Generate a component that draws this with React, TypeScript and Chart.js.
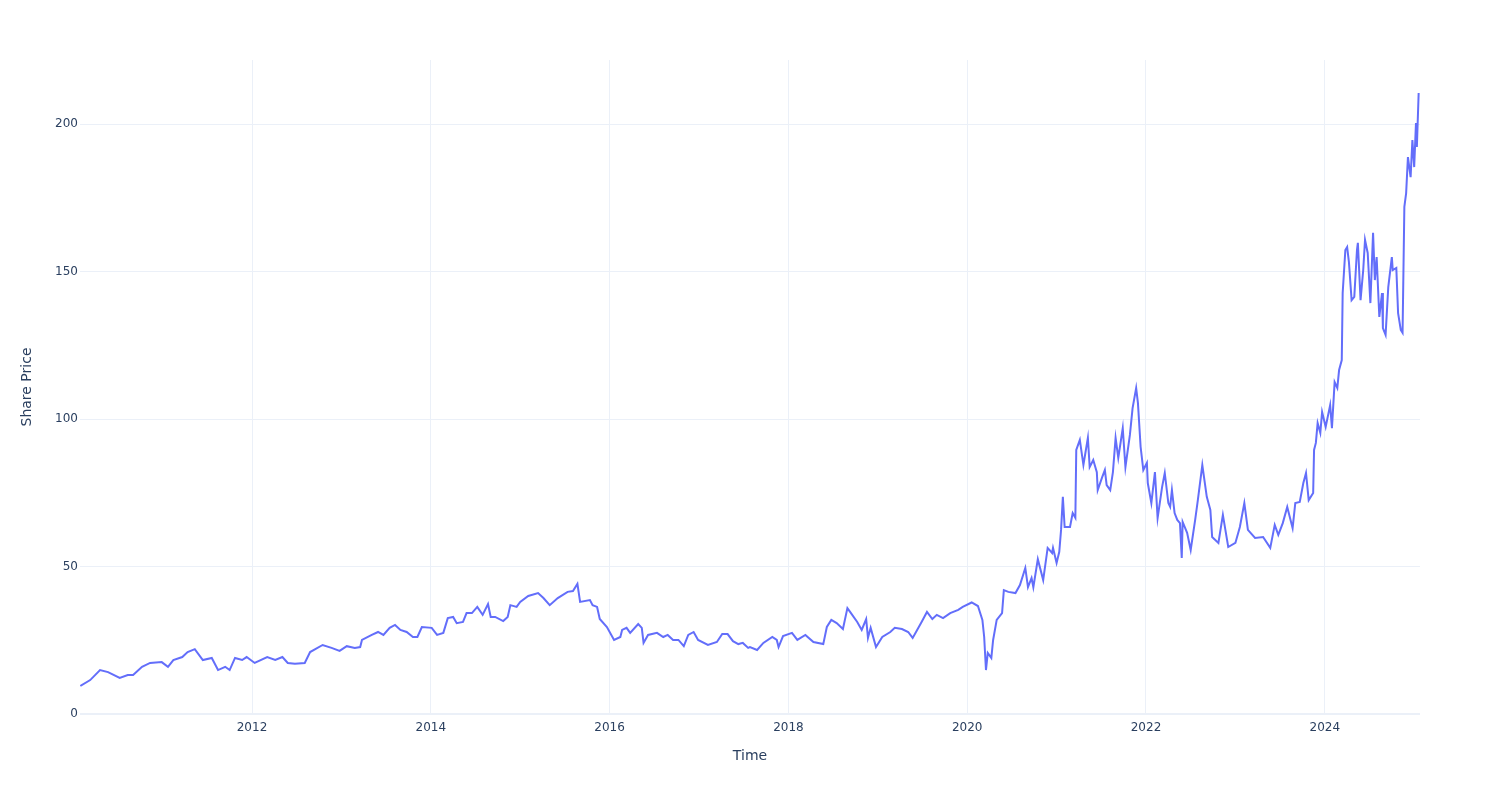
import React, { useEffect, useRef } from "react";
import { Chart, registerables } from "chart.js";

Chart.register(...registerables);

// Decimal-year time stamps and share prices
const years: number[] = [
  2010.08, 2010.19, 2010.30, 2010.39, 2010.52, 2010.61, 2010.67, 2010.77, 2010.86, 2010.99,
  2011.06, 2011.12, 2011.22, 2011.28, 2011.36, 2011.45, 2011.55, 2011.62, 2011.70, 2011.75,
  2011.81, 2011.89, 2011.94, 2012.03, 2012.17, 2012.26, 2012.34, 2012.40, 2012.48, 2012.59,
  2012.65, 2012.79, 2012.89, 2012.98, 2013.06, 2013.15, 2013.21, 2013.23, 2013.34, 2013.41,
  2013.47, 2013.54, 2013.60, 2013.66, 2013.73, 2013.80, 2013.85, 2013.90, 2014.01, 2014.07,
  2014.14, 2014.19, 2014.25, 2014.29, 2014.36, 2014.40, 2014.46, 2014.52, 2014.58, 2014.64,
  2014.67, 2014.72, 2014.81, 2014.86, 2014.89, 2014.96, 2015.00, 2015.09, 2015.20, 2015.26,
  2015.33, 2015.42, 2015.53, 2015.59, 2015.64, 2015.67, 2015.78, 2015.81, 2015.86, 2015.89,
  2015.97, 2016.05, 2016.12, 2016.14, 2016.19, 2016.23, 2016.32, 2016.36, 2016.38, 2016.43,
  2016.53, 2016.60, 2016.65, 2016.71, 2016.77, 2016.83, 2016.88, 2016.94, 2016.99, 2017.10,
  2017.20, 2017.26, 2017.32, 2017.38, 2017.44, 2017.49, 2017.55, 2017.57, 2017.65, 2017.72,
  2017.82, 2017.87, 2017.89, 2017.94, 2018.04, 2018.10, 2018.19, 2018.28, 2018.39, 2018.43,
  2018.48, 2018.54, 2018.61, 2018.66, 2018.69, 2018.77, 2018.82, 2018.87, 2018.89, 2018.92,
  2018.98, 2019.05, 2019.14, 2019.19, 2019.27, 2019.34, 2019.39, 2019.44, 2019.49, 2019.55,
  2019.61, 2019.66, 2019.73, 2019.81, 2019.90, 2019.95, 2020.05, 2020.12, 2020.17, 2020.19,
  2020.21, 2020.23, 2020.27, 2020.29, 2020.33, 2020.39, 2020.41, 2020.46, 2020.54, 2020.59,
  2020.65, 2020.68, 2020.72, 2020.74, 2020.79, 2020.85, 2020.90, 2020.95, 2020.96, 2021.00,
  2021.03, 2021.05, 2021.07, 2021.09, 2021.15, 2021.18, 2021.21, 2021.22, 2021.26, 2021.30,
  2021.35, 2021.37, 2021.41, 2021.45, 2021.46, 2021.51, 2021.54, 2021.56, 2021.60, 2021.63,
  2021.66, 2021.69, 2021.74, 2021.77, 2021.82, 2021.85, 2021.89, 2021.91, 2021.94, 2021.97,
  2022.01, 2022.02, 2022.06, 2022.10, 2022.13, 2022.18, 2022.21, 2022.25, 2022.27, 2022.29,
  2022.32, 2022.35, 2022.38, 2022.40, 2022.41, 2022.46, 2022.50, 2022.55, 2022.58, 2022.63,
  2022.68, 2022.72, 2022.74, 2022.81, 2022.86, 2022.92, 2023.00, 2023.05, 2023.10, 2023.14,
  2023.22, 2023.31, 2023.39, 2023.44, 2023.48, 2023.53, 2023.58, 2023.64, 2023.67, 2023.72,
  2023.76, 2023.79, 2023.82, 2023.87, 2023.88, 2023.90, 2023.92, 2023.95, 2023.97, 2024.01,
  2024.06, 2024.08, 2024.11, 2024.14, 2024.16, 2024.19, 2024.20, 2024.23, 2024.25, 2024.27,
  2024.30, 2024.33, 2024.36, 2024.37, 2024.40, 2024.43, 2024.45, 2024.48, 2024.51, 2024.54,
  2024.56, 2024.58, 2024.61, 2024.64, 2024.65, 2024.68, 2024.71, 2024.75, 2024.76, 2024.80,
  2024.82, 2024.85, 2024.87, 2024.89, 2024.91, 2024.93, 2024.96, 2024.98, 2025.00, 2025.02,
  2025.03, 2025.05,
];

const prices: number[] = [
  9.5, 11.5, 14.9, 14.2, 12.2, 13.2, 13.2, 16.0, 17.3, 17.6,
  16.0, 18.3, 19.3, 21.0, 22.0, 18.3, 19.0, 14.9, 16.0, 14.9,
  19.0, 18.3, 19.3, 17.3, 19.3, 18.3, 19.3, 17.3, 17.0, 17.3,
  21.0, 23.4, 22.4, 21.4, 23.0, 22.4, 22.7, 25.1, 26.8, 27.8,
  26.8, 29.2, 30.2, 28.5, 27.8, 26.1, 26.1, 29.5, 29.2, 26.8,
  27.5, 32.5, 32.9, 30.8, 31.2, 34.2, 34.2, 36.3, 33.6, 37.3,
  32.9, 32.9, 31.5, 32.9, 36.9, 36.3, 38.0, 40.0, 41.0, 39.3,
  36.9, 39.3, 41.4, 41.7, 44.1, 38.0, 38.6, 36.9, 36.3, 32.2,
  29.5, 25.1, 26.1, 28.5, 29.2, 27.5, 30.5, 29.2, 24.1, 26.8,
  27.5, 26.1, 26.8, 25.1, 25.1, 23.0, 26.8, 27.8, 25.1, 23.4,
  24.4, 27.1, 27.1, 24.7, 23.7, 24.1, 22.4, 22.7, 21.7, 24.1,
  26.1, 25.1, 22.7, 26.4, 27.5, 25.1, 26.8, 24.4, 23.7, 29.5,
  31.9, 30.8, 28.8, 35.9, 34.6, 31.2, 28.5, 32.2, 25.8, 29.2,
  22.7, 26.1, 27.8, 29.2, 28.8, 27.8, 25.8, 28.5, 31.2, 34.6,
  32.2, 33.6, 32.5, 34.2, 35.3, 36.3, 37.8, 36.6, 31.9, 26.1,
  14.9, 20.7, 19.0, 25.1, 31.9, 34.2, 42.0, 41.4, 41.0, 43.7,
  49.5, 43.0, 46.1, 43.0, 52.5, 45.4, 56.3, 54.6, 56.3, 51.2,
  55.0, 62.4, 73.6, 63.4, 63.4, 68.1, 66.5, 89.5, 92.9, 84.4,
  93.6, 83.7, 86.1, 82.0, 75.9, 80.3, 82.7, 77.6, 75.9, 82.0,
  93.6, 86.8, 96.9, 83.7, 94.6, 103.7, 110.5, 105.4, 90.5, 82.7,
  85.1, 78.3, 71.5, 82.0, 66.4, 76.9, 81.7, 71.5, 70.2, 75.9,
  68.1, 65.8, 64.7, 52.9, 65.1, 61.4, 55.6, 65.8, 72.5, 84.4,
  73.6, 69.2, 60.0, 58.0, 67.5, 56.6, 58.0, 63.4, 71.5, 62.4,
  59.7, 60.0, 56.3, 64.1, 60.7, 64.7, 70.2, 63.0, 71.5, 71.9,
  78.3, 81.7, 72.5, 74.9, 89.5, 91.9, 98.6, 95.3, 102.4, 97.3,
  104.7, 96.9, 112.5, 110.5, 116.6, 120.0, 142.7, 157.3, 158.3, 153.2,
  140.3, 141.4, 157.3, 159.7, 140.3, 150.5, 160.7, 156.3, 139.3, 163.1,
  147.1, 154.9, 134.6, 142.7, 130.8, 128.5, 144.7, 154.9, 150.5, 151.2,
  135.9, 130.2, 129.2, 171.9, 176.6, 188.8, 182.0, 194.6, 185.4, 200.3,
  192.2, 210.5,
];

const xTickValues: number[] = [2012, 2014, 2016, 2018, 2020, 2022, 2024];
const yTickValues: number[] = [0, 50, 100, 150, 200];

const xTitle = "Time";
const yTitle = "Share Price";

const TEXT = "#2a3f5f";
const GRID = "#EBF0F8";
const LINE = "#636efa";
const FONT = "'DejaVu Sans', sans-serif";

export default function App() {
  const ref = useRef<HTMLCanvasElement | null>(null);

  useEffect(() => {
    if (!ref.current) return;
    const chart = new Chart(ref.current, {
      type: "line",
      data: {
        datasets: [
          {
            data: years.map((x, i) => ({ x, y: prices[i] })),
            borderColor: LINE,
            backgroundColor: LINE,
            borderWidth: 2,
            pointRadius: 0,
            tension: 0,
            fill: false,
          },
        ],
      },
      options: {
        animation: false,
        responsive: false,
        maintainAspectRatio: false,
        layout: { padding: { top: 60, right: 80, left: 0, bottom: 0 } },
        plugins: { legend: { display: false }, tooltip: { enabled: false } },
        scales: {
          x: {
            type: "linear",
            min: 2010.076,
            max: 2025.065,
            afterFit: (s: any) => {
              s.height = 86;
            },
            afterBuildTicks: (s: any) => {
              s.ticks = xTickValues.map((v) => ({ value: v }));
            },
            ticks: {
              color: TEXT,
              font: { family: FONT, size: 12 },
              padding: 7,
              maxRotation: 0,
              autoSkip: false,
              callback: (v: any) => String(v),
            },
            grid: { color: GRID, lineWidth: 1, drawTicks: false },
            border: { display: false },
            title: {
              display: true,
              text: xTitle,
              color: TEXT,
              font: { family: FONT, size: 14 },
              padding: { top: 0, bottom: 35 },
            },
          },
          y: {
            type: "linear",
            min: 0,
            max: 221.7,
            afterFit: (s: any) => {
              s.width = 80;
            },
            afterBuildTicks: (s: any) => {
              s.ticks = yTickValues.map((v) => ({ value: v }));
            },
            ticks: {
              color: TEXT,
              font: { family: FONT, size: 12 },
              padding: 2,
              autoSkip: false,
              callback: (v: any) => String(v),
            },
            grid: {
              color: GRID,
              lineWidth: (ctx: any) => (ctx.tick && ctx.tick.value === 0 ? 2 : 1),
              drawTicks: false,
            },
            border: { display: false },
            title: {
              display: true,
              text: yTitle,
              color: TEXT,
              font: { family: FONT, size: 14 },
              padding: { top: 19, bottom: 0 },
            },
          },
        },
      },
    });
    return () => chart.destroy();
  }, []);

  return (
    <div style={{ position: "absolute", left: 0, top: 0, width: 1500, height: 800, background: "#fff" }}>
      <canvas ref={ref} width={1500} height={800} style={{ display: "block" }} />
    </div>
  );
}
